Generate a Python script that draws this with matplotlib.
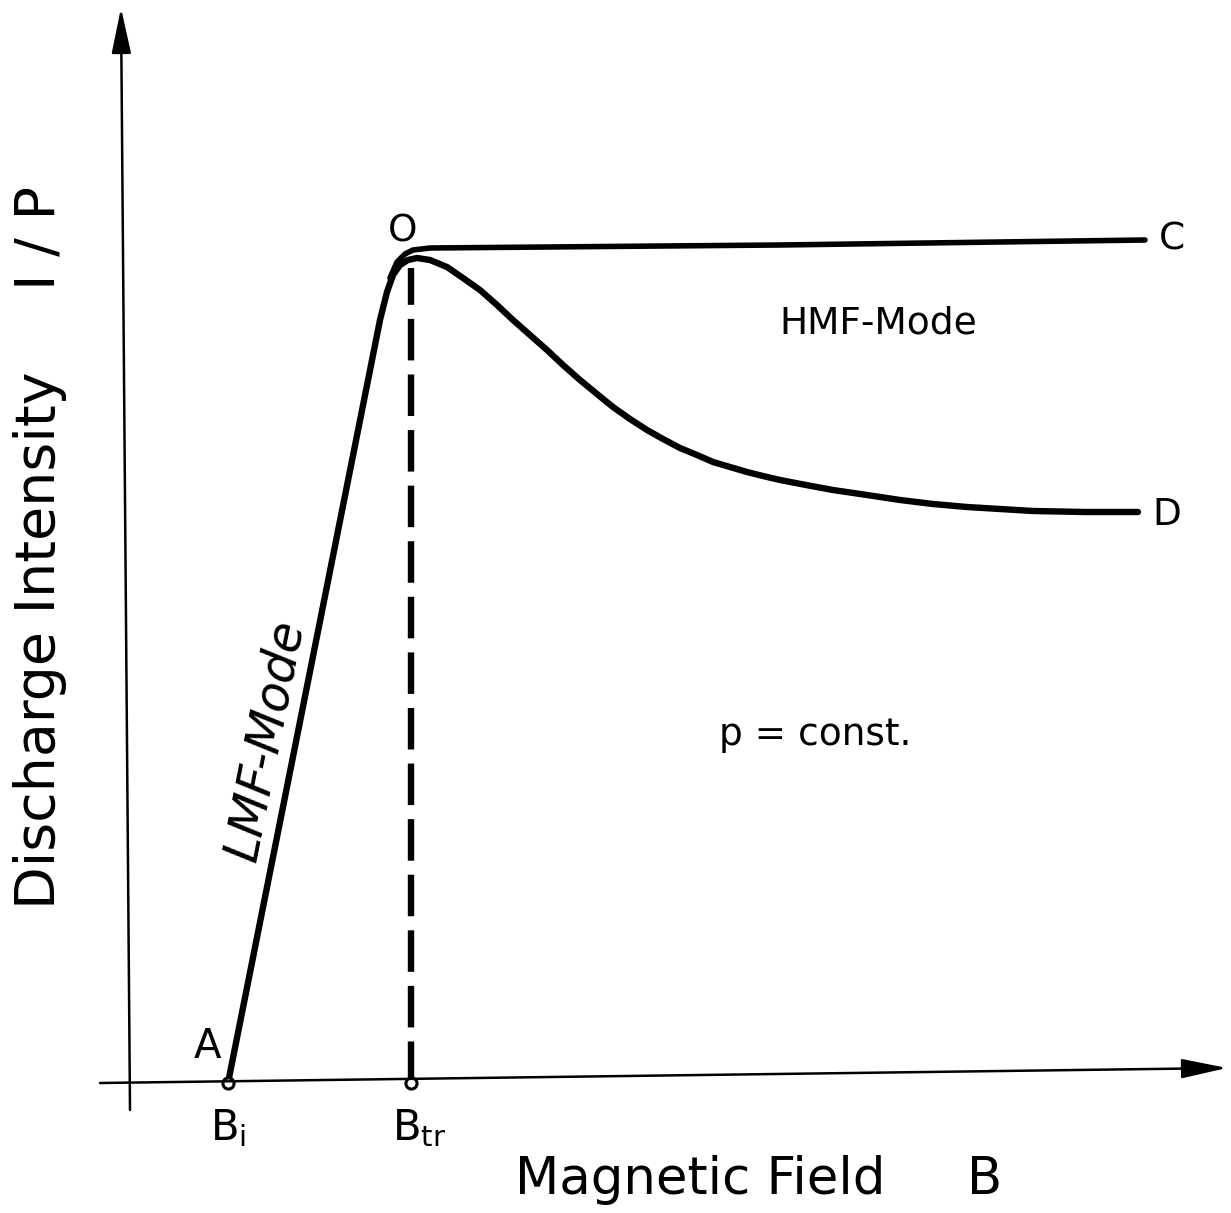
import matplotlib
matplotlib.use("Agg")
import matplotlib.pyplot as plt
import numpy as np

# Data in chart units (origin at axis crossing, arbitrary units)
# Curve A -> O -> D (LMF rise, then HMF decay)
curve_ad_x = [98, 250, 257, 263, 270, 278, 287, 300, 317, 333, 350, 367, 383, 400, 417, 433, 450, 467, 483, 500, 517, 533, 550, 567, 583, 600, 617, 633, 650, 676, 703, 737, 770, 803, 837, 870, 903, 955, 1008]
curve_ad_y = [0, 763, 791, 808, 818, 823, 825, 823, 816, 805, 793, 778, 763, 748, 733, 718, 703, 689, 676, 664, 653, 644, 635, 628, 621, 616, 611, 607, 603, 598, 593, 588, 583, 579, 576, 574, 572, 571, 571]
# Branch O -> C
curve_oc_x = [260, 267, 275, 283, 300, 650, 1015]
curve_oc_y = [805, 821, 829, 833, 835, 838, 843]
# Characteristic points
B_i = 98
B_tr = 281
peak_y = 815

fig = plt.figure(figsize=(12.31, 12.13), dpi=100)
ax = fig.add_axes([0, 0, 1, 1])
ax.set_xlim(-130, 1101)
ax.set_ylim(-130, 1083)
ax.axis("off")

lw = 4.6
ax.plot(curve_ad_x, curve_ad_y, color="black", lw=lw, solid_capstyle="round", solid_joinstyle="round")
ax.plot(curve_oc_x, curve_oc_y, color="black", lw=4.0, solid_capstyle="round", solid_joinstyle="round")
ax.plot([B_tr, B_tr], [0, peak_y], color="black", lw=lw, ls=(0, (6.5, 2.2)))

# axes with arrows
ax.annotate("", xy=(-9, 1075), xytext=(0, -27),
            arrowprops=dict(arrowstyle="-|>,head_length=2.8,head_width=0.6", lw=1.8, color="black", shrinkA=0, shrinkB=0))
ax.annotate("", xy=(1097, 15), xytext=(-30, 0),
            arrowprops=dict(arrowstyle="-|>,head_length=2.8,head_width=0.6", lw=1.8, color="black", shrinkA=0, shrinkB=0))

ax.plot([B_i, B_tr], [0, 0], "o", ms=8, mfc="white", mec="black", mew=2.2)

fam = "DejaVu Sans"
ax.text(77, 36, "A", fontsize=29, ha="center", va="center", family=fam)
ax.text(B_i, -45, r"B$_\mathregular{i}$", fontsize=30, ha="center", va="center", family=fam)
ax.text(B_tr + 8, -45, r"B$_\mathregular{tr}$", fontsize=30, ha="center", va="center", family=fam)
ax.text(273, 851, "O", fontsize=27, ha="center", va="center", family=fam)
ax.text(1042, 843, "C", fontsize=27, ha="center", va="center", family=fam)
ax.text(1037, 568, "D", fontsize=27, ha="center", va="center", family=fam)
ax.text(748, 760, "HMF-Mode", fontsize=27, ha="center", va="center", family=fam)
ax.text(685, 348, "p = const.", fontsize=27, ha="center", va="center", family=fam)
ax.text(135, 343, "LMF-Mode", fontsize=35, ha="center", va="center", rotation=78.7,
        style="italic", family=fam)
ax.text(570, -97, "Magnetic Field", fontsize=37, ha="center", va="center", family=fam)
ax.text(855, -97, "B", fontsize=37, ha="center", va="center", family=fam)
ax.text(-90, 443, "Discharge Intensity", fontsize=40, ha="center", va="center", rotation=90, family=fam)
ax.text(-90, 845, "I / P", fontsize=40, ha="center", va="center", rotation=90, family=fam)

fig.savefig("out.png", dpi=100, facecolor="white")
